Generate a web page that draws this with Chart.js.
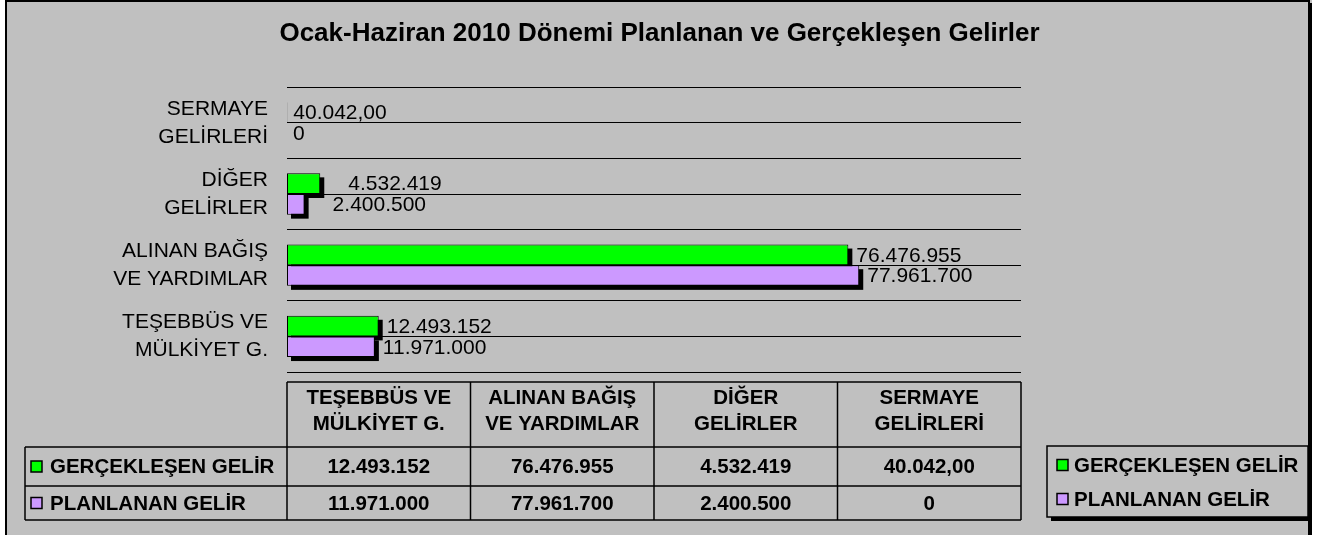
<!DOCTYPE html>
<html><head><meta charset="utf-8">
<script src="https://cdn.jsdelivr.net/npm/chart.js@4.4.0/dist/chart.umd.min.js"></script>
<style>html,body{margin:0;padding:0;background:#fff;}canvas{display:block;}</style>
</head><body>
<canvas id="c" width="1319" height="535"></canvas>
<script>
// ---- data ----
const categories = [['TEŞEBBÜS VE','MÜLKİYET G.'],['ALINAN BAĞIŞ','VE YARDIMLAR'],['DİĞER','GELİRLER'],['SERMAYE','GELİRLERİ']];
const seriesNames = ['GERÇEKLEŞEN GELİR','PLANLANAN GELİR'];
const realized = [12493152, 76476955, 4532419, 40042];
const planned = [11971000, 77961700, 2400500, 0];
const realizedDecimals = [0, 0, 0, 2];
const plannedDecimals = [0, 0, 0, 0];
const valueAxisMax = 100000000;
const titleText = 'Ocak-Haziran 2010 Dönemi Planlanan ve Gerçekleşen Gelirler';

// ---- styles ----
const FONT = 'Liberation Sans';
const GREEN = '#00FF00', PURPLE = '#CC99FF', BG = '#C0C0C0';
const seriesColors = [GREEN, PURPLE];
const seriesDecimals = [realizedDecimals, plannedDecimals];
const labelNudge = {2: 20, 3: -2};

function fmt(v, d) {
  const neg = v < 0; v = Math.abs(v);
  let s = v.toFixed(d);
  let [ip, dp] = s.split('.');
  ip = ip.replace(/\B(?=(\d{3})+(?!\d))/g, '.');
  return (neg ? '-' : '') + ip + (dp ? ',' + dp : '');
}

const framePlugin = {
  id: 'frame',
  beforeDraw(chart) {
    const ctx = chart.ctx;
    ctx.save();
    ctx.fillStyle = '#fff';
    ctx.fillRect(0, 0, chart.width, chart.height);
    ctx.fillStyle = BG;
    ctx.fillRect(5, 0, 1307, chart.height + 10);
    ctx.strokeStyle = '#000';
    ctx.lineWidth = 2;
    ctx.strokeRect(6, 1, 1303, chart.height + 20);
    ctx.fillStyle = '#000';
    ctx.fillRect(1310, 3, 2, chart.height);
    ctx.restore();
  }
};

const shadowPlugin = {
  id: 'barShadow',
  beforeDatasetsDraw(chart) {
    const ctx = chart.ctx;
    ctx.save();
    ctx.fillStyle = '#000';
    chart.data.datasets.forEach((ds, di) => {
      chart.getDatasetMeta(di).data.forEach(el => {
        const p = el.getProps(['x', 'y', 'base', 'height'], true);
        const left = Math.min(p.x, p.base), w = Math.abs(p.x - p.base);
        if (w < 1) return;
        ctx.fillRect(left + 4, p.y - p.height / 2 + 4, w, p.height);
      });
    });
    ctx.restore();
  }
};

const valueLabelPlugin = {
  id: 'valueLabels',
  afterDatasetsDraw(chart) {
    const ctx = chart.ctx;
    ctx.save();
    ctx.fillStyle = '#000';
    ctx.font = '21px "' + FONT + '"';
    ctx.textAlign = 'left';
    ctx.textBaseline = 'middle';
    chart.data.datasets.forEach((ds, di) => {
      chart.getDatasetMeta(di).data.forEach((el, i) => {
        const p = el.getProps(['x', 'y', 'base'], true);
        const x = Math.max(p.x, p.base) + 8 + (labelNudge[i] || 0);
        ctx.fillText(fmt(ds.data[i], seriesDecimals[di][i]), x, p.y + 1);
      });
    });
    ctx.restore();
  }
};

function drawKey(ctx, x, yc, color) {
  ctx.fillStyle = color;
  ctx.fillRect(x, yc - 5.5, 11, 11);
  ctx.strokeStyle = '#000';
  ctx.lineWidth = 1.5;
  ctx.strokeRect(x, yc - 5.5, 11, 11);
}

const tablePlugin = {
  id: 'dataTable',
  afterDraw(chart) {
    const ctx = chart.ctx, ca = chart.chartArea;
    const n = categories.length;
    const colW = (ca.right - ca.left) / n;
    const t0 = ca.bottom + 10, t1 = ca.bottom + 75, t2 = ca.bottom + 114, t3 = ca.bottom + 148;
    const labL = 25;
    ctx.save();
    ctx.strokeStyle = '#000';
    ctx.lineWidth = 1.5;
    ctx.beginPath();
    ctx.moveTo(ca.left, t0); ctx.lineTo(ca.right, t0);
    [t1, t2, t3].forEach(y => { ctx.moveTo(labL, y); ctx.lineTo(ca.right, y); });
    ctx.moveTo(labL, t1); ctx.lineTo(labL, t3);
    for (let i = 0; i <= n; i++) {
      const x = ca.left + i * colW;
      ctx.moveTo(x, t0); ctx.lineTo(x, t3);
    }
    ctx.stroke();

    ctx.fillStyle = '#000';
    ctx.textAlign = 'center';
    ctx.textBaseline = 'middle';
    ctx.font = 'bold 20.5px "' + FONT + '"';
    const hc = (t0 + t1) / 2 - 3;
    categories.forEach((lines, i) => {
      const cx = ca.left + (i + 0.5) * colW;
      lines.forEach((ln, k) => ctx.fillText(ln, cx, hc + (k - (lines.length - 1) / 2) * 26));
    });
    const rows = [[t1, t2], [t2, t3]];
    chart.data.datasets.forEach((ds, di) => {
      const yc = (rows[di][0] + rows[di][1]) / 2 + 1;
      ctx.textAlign = 'center';
      ds.data.forEach((v, i) => {
        ctx.fillText(fmt(v, seriesDecimals[di][i]), ca.left + (i + 0.5) * colW, yc);
      });
      drawKey(ctx, 31, yc - 1, seriesColors[di]);
      ctx.fillStyle = '#000';
      ctx.textAlign = 'left';
      ctx.fillText(ds.label, 50, yc);
    });

    // legend box
    const lx = 1047, ly = 446, lw = 261, lh = 71;
    ctx.fillStyle = '#000';
    ctx.fillRect(lx + 4, ly + 4, lw, lh);
    ctx.fillStyle = BG;
    ctx.fillRect(lx, ly, lw, lh);
    ctx.lineWidth = 1.5;
    ctx.strokeStyle = '#000';
    ctx.strokeRect(lx, ly, lw, lh);
    chart.data.datasets.forEach((ds, di) => {
      const yc = ly + 19 + di * 34;
      drawKey(ctx, lx + 10, yc, seriesColors[di]);
      ctx.fillStyle = '#000';
      ctx.textAlign = 'left';
      ctx.fillText(ds.label, lx + 27, yc + 1);
    });
    ctx.restore();
  }
};

new Chart(document.getElementById('c'), {
  type: 'bar',
  data: {
    labels: categories,
    datasets: [
      {label: seriesNames[0], data: realized, backgroundColor: GREEN, borderColor: '#000', borderWidth: 1, borderSkipped: false, categoryPercentage: 0.58, barPercentage: 1, xAxisID: 'x', yAxisID: 'y'},
      {label: seriesNames[1], data: planned, backgroundColor: PURPLE, borderColor: '#000', borderWidth: 1, borderSkipped: false, categoryPercentage: 0.58, barPercentage: 1, xAxisID: 'x', yAxisID: 'y'}
    ]
  },
  options: {
    indexAxis: 'y',
    responsive: false,
    animation: false,
    devicePixelRatio: 1,
    layout: {padding: {left: 0, right: 0, top: 0, bottom: 163}},
    plugins: {
      legend: {display: false},
      tooltip: {enabled: false},
      title: {
        display: true, text: titleText, color: '#000',
        font: {family: FONT, size: 26, weight: 'bold', lineHeight: 1.2},
        padding: {top: 18, bottom: 38}
      }
    },
    scales: {
      x: {display: false, min: 0, max: valueAxisMax},
      y: {
        type: 'category', position: 'left', reverse: true, offset: true,
        grid: {offset: true, color: '#000', lineWidth: 1, drawTicks: false},
        border: {display: false},
        ticks: {crossAlign: 'near', padding: 19, color: '#000', font: {family: FONT, size: 21, lineHeight: 1.333}},
        afterFit(s) { s.width = 287; }
      },
      y2: {
        type: 'category', position: 'right', labels: categories, reverse: true, offset: true,
        grid: {offset: false, color: '#000', lineWidth: 1, drawTicks: false},
        border: {display: false},
        ticks: {display: false},
        afterFit(s) { s.width = 298; }
      }
    }
  },
  plugins: [framePlugin, shadowPlugin, valueLabelPlugin, tablePlugin]
});
</script>
</body></html>
